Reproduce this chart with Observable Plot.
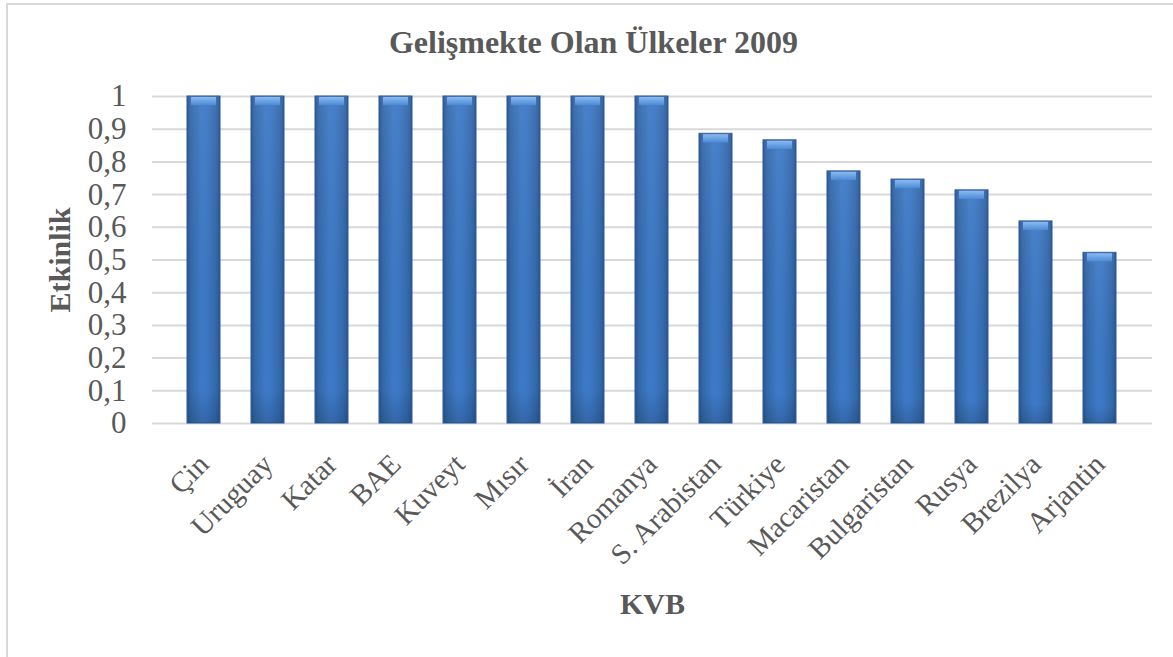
<!DOCTYPE html>
<html>
<head>
<meta charset="utf-8">
<script src="https://cdn.jsdelivr.net/npm/d3@7"></script>
<script src="https://cdn.jsdelivr.net/npm/@observablehq/plot@0.6"></script>
<style>
  html, body { margin: 0; padding: 0; background: #fff; overflow: hidden; }
  body { width: 1173px; height: 657px; position: relative; font-family: "Liberation Serif", "Times New Roman", serif; }
  #frame { position: absolute; left: 6px; top: 3px; width: 1200px; height: 700px; border: 2px solid #d9d9d9; box-sizing: border-box; pointer-events: none; }
  #title { height: 80px; box-sizing: border-box; padding-top: 25px; padding-left: 14px; text-align: center; font-weight: bold; font-size: 32px; line-height: 34px; color: #595959; }
  #chart svg { display: block; }
  #chart g[aria-label="y-axis label"] text,
  #chart g[aria-label="x-axis label"] text { font-size: 30px; font-weight: bold; fill: #595959; }
</style>
</head>
<body>
<div id="frame"></div>
<div id="title">Gelişmekte Olan Ülkeler 2009</div>
<div id="chart"></div>
<script>
const countries = ["Çin","Uruguay","Katar","BAE","Kuveyt","Mısır","İran","Romanya","S. Arabistan","Türkiye","Macaristan","Bulgaristan","Rusya","Brezilya","Arjantin"];
const values = [1, 1, 1, 1, 1, 1, 1, 1, 0.886, 0.866, 0.771, 0.746, 0.713, 0.618, 0.522];
const yTicks = [0, 0.1, 0.2, 0.3, 0.4, 0.5, 0.6, 0.7, 0.8, 0.9, 1];
const xTitle = "KVB";
const yTitle = "Etkinlik";

const data = countries.map((c, i) => ({country: c, value: values[i]}));

const plot = Plot.plot({
  width: 1173,
  height: 577,
  marginTop: 16,
  marginBottom: 234,
  marginLeft: 152,
  marginRight: 21,
  style: { fontFamily: "'Liberation Serif', 'Times New Roman', serif", color: "#595959", background: "transparent", overflow: "visible" },
  x: { domain: countries, padding: 0.48, label: null },
  y: { domain: [0, 1], label: null },
  marks: [
    Plot.gridY(yTicks, { stroke: "#d9d9d9", strokeOpacity: 1, strokeWidth: 2 }),
    Plot.barY(data, { x: "country", y: "value", fill: "url(#barGrad)", stroke: "#2c5c9c", strokeWidth: 1 }),
    Plot.barY(data, { x: "country", y: "value", fill: "url(#shadeGrad)", stroke: "none", insetLeft: 1, insetRight: 1 }),
    Plot.barY(data, { x: "country", y1: d => d.value - 0.028, y2: "value", fill: "url(#bevelGrad)", stroke: "none", insetLeft: 4, insetRight: 4, insetTop: 1 }),
    Plot.axisY(yTicks, { tickSize: 0, tickPadding: 26, fontSize: 31, tickFormat: d => String(d).replace(".", ","), label: yTitle, labelAnchor: "center", labelOffset: 104, labelArrow: "none" }),
    Plot.axisX({ tickSize: 0, tickPadding: 36, fontSize: 29, tickRotate: -45, label: xTitle, labelAnchor: "center", labelOffset: 190, labelArrow: "none" })
  ]
});

const defs = `
<defs>
  <linearGradient id="barGrad" x1="0" x2="1" y1="0" y2="0">
    <stop offset="0" stop-color="#28548f"/>
    <stop offset="0.12" stop-color="#3468ab"/>
    <stop offset="0.45" stop-color="#3d7ac6"/>
    <stop offset="0.6" stop-color="#3c78c3"/>
    <stop offset="0.88" stop-color="#3468ab"/>
    <stop offset="1" stop-color="#28548f"/>
  </linearGradient>
  <linearGradient id="shadeGrad" x1="0" x2="0" y1="0" y2="1">
    <stop offset="0" stop-color="#ffffff" stop-opacity="0.06"/>
    <stop offset="0.9" stop-color="#000000" stop-opacity="0"/>
    <stop offset="1" stop-color="#000000" stop-opacity="0.15"/>
  </linearGradient>
  <linearGradient id="bevelGrad" x1="0" x2="0" y1="0" y2="1">
    <stop offset="0" stop-color="#8cbaf0"/>
    <stop offset="1" stop-color="#4a8ad6"/>
  </linearGradient>
</defs>`;
d3.select(plot).insert("g", ":first-child").html(defs);
document.getElementById("chart").appendChild(plot);
</script>
</body>
</html>
